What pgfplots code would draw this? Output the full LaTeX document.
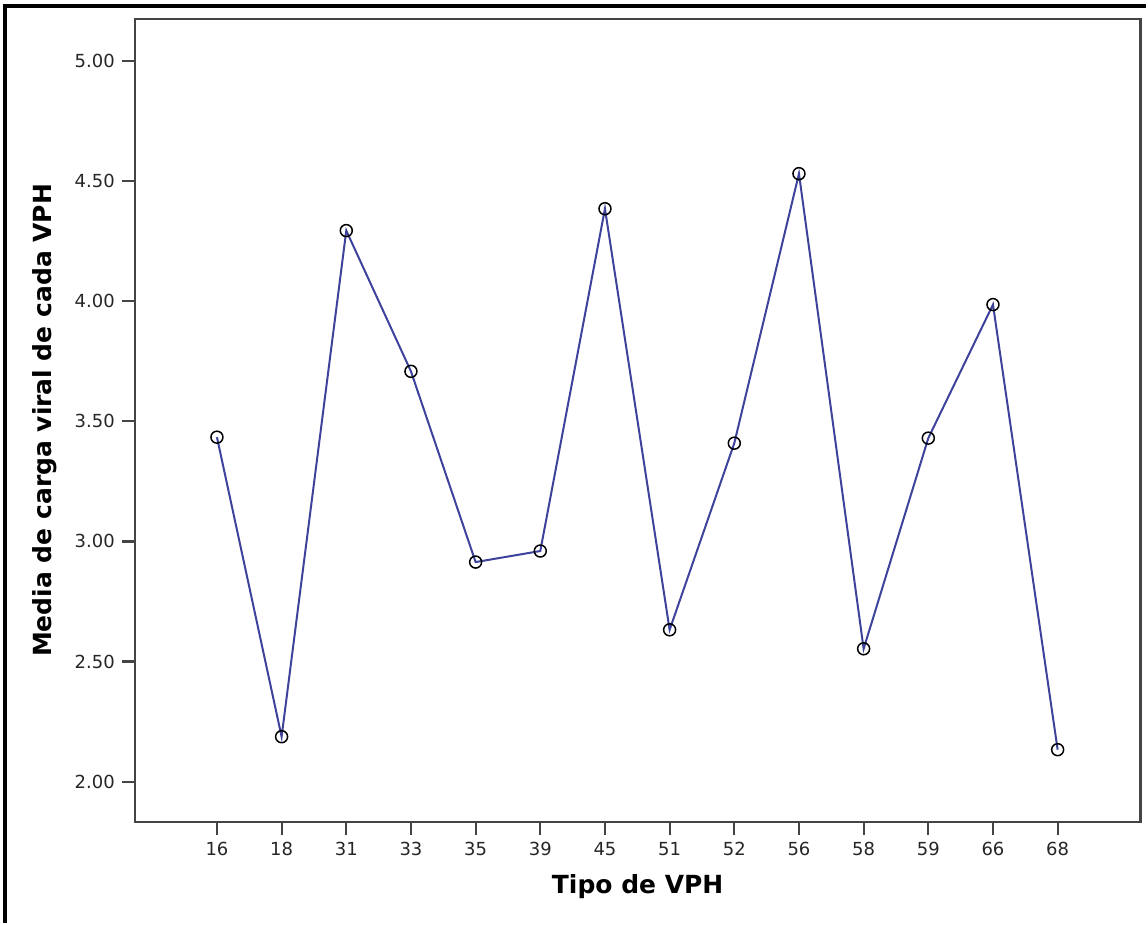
\documentclass[border=0pt]{standalone}
\usepackage{fontspec}
\setmainfont{DejaVu Sans}
\usepackage{pgfplots}
\pgfplotsset{compat=1.18}

\definecolor{axisgray}{HTML}{444444}
\definecolor{spssblue}{HTML}{3D439A}

\begin{document}
\begin{tikzpicture}
    \begin{axis}[
            at={(0,0)}, anchor=south west,
            scale only axis,
            width=503.5pt, height=402pt,
            xmin=-1.27, xmax=14.28,
            ymin=1.8325, ymax=5.175,
            xtick={0,...,13},
            xticklabels={16,18,31,33,35,39,45,51,52,56,58,59,66,68},
            ytick={2,2.5,3,3.5,4,4.5,5},
            yticklabel style={/pgf/number format/.cd, fixed, fixed zerofill, precision=2},
            /pgf/number format/assume math mode=true,
            tick label style={font=\fontsize{9}{11}\selectfont, color=black!85},
            tick align=outside,
            major tick length=6.5pt,
            tick style={axisgray, line width=1.1pt},
            axis line style={axisgray, line width=1.1pt},
            xtick pos=bottom, ytick pos=left,
            xlabel={\bfseries Tipo de VPH},
            ylabel={\bfseries Media de carga viral de cada VPH},
            label style={font=\fontsize{12.5}{15}\selectfont},
            xlabel style={at={(axis description cs:0.5,-0.0808)}, anchor=center},
            ylabel style={at={(axis description cs:-0.0894,0.5)}, anchor=center},
        ]
        \addplot[
            color=spssblue, line width=1pt,
            mark=o, mark size=3pt,
            mark options={draw=black, line width=0.75pt, fill=none},
        ]
        coordinates {
                (0, 3.434)
                (1, 2.187)
                (2, 4.294)
                (3, 3.708)
                (4, 2.914)
                (5, 2.960)
                (6, 4.385)
                (7, 2.632)
                (8, 3.409)
                (9, 4.531)
                (10, 2.553)
                (11, 3.430)
                (12, 3.986)
                (13, 2.133)
            };
    \end{axis}
    \draw[black, line width=1.6pt] (-65pt,-50.5pt) -- (-65pt,408.5pt) -- (506.5pt,408.5pt);
    \useasboundingbox (-67.5pt,-50.5pt) rectangle (506.5pt,411.5pt);
\end{tikzpicture}
\end{document}
